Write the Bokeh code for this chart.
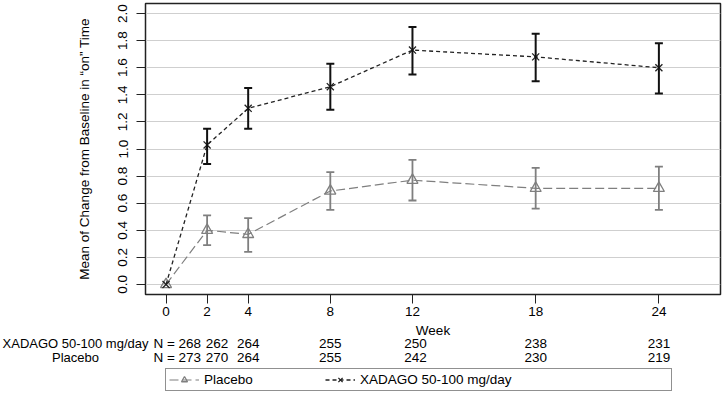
from bokeh.plotting import figure
from bokeh.layouts import column
from bokeh.models import (ColumnDataSource, Whisker, TeeHead, FixedTicker, Range1d,
                          Label, Legend, LegendItem, PrintfTickFormatter)
from bokeh.embed import file_html
from bokeh.resources import INLINE

# ---- data ----
weeks = [0, 2, 4, 8, 12, 18, 24]
placebo_mean = [0.0, 0.40, 0.37, 0.69, 0.77, 0.71, 0.71]
placebo_lower = [0.0, 0.29, 0.24, 0.55, 0.62, 0.56, 0.55]
placebo_upper = [0.0, 0.51, 0.49, 0.83, 0.92, 0.86, 0.87]
xadago_mean = [0.0, 1.03, 1.30, 1.46, 1.73, 1.68, 1.60]
xadago_lower = [0.0, 0.89, 1.15, 1.29, 1.55, 1.50, 1.41]
xadago_upper = [0.0, 1.15, 1.45, 1.63, 1.90, 1.85, 1.78]
xadago_n = [268, 262, 264, 255, 250, 238, 231]
placebo_n = [273, 270, 264, 255, 242, 230, 219]
x_ticks = [0, 2, 4, 8, 12, 18, 24]
y_ticks = [0.0, 0.2, 0.4, 0.6, 0.8, 1.0, 1.2, 1.4, 1.6, 1.8, 2.0]
xadago_name = "XADAGO 50-100 mg/day"
placebo_name = "Placebo"
x_label = "Week"
y_label = "Mean of Change from Baseline in \u201con\u201d Time"

FONT = "Liberation Sans"
FS = "13.5px"
PC = "#7f7f7f"
XC = "#222222"

# ---- layout constants ----
W = 724
X0, X1 = -1, 27
LB, RB = 145, 4
px_per_wk = (W - LB - RB) / (X1 - X0)
n_dx = [35, 10, 0, 0, 3, 0, 0]  # label offsets for the N rows (style)

p = figure(width=W, height=322, output_backend="svg", toolbar_location=None,
           x_range=Range1d(X0, X1), y_range=Range1d(-0.074, 2.074),
           min_border_left=LB, min_border_right=RB, min_border_top=3,
           min_border_bottom=28)
p.frame_align = False

p.outline_line_color = "#222222"
p.outline_line_width = 1.5
p.xgrid.visible = False
p.ygrid.grid_line_color = "#cfcfcf"
p.ygrid.grid_line_width = 1

src_p = ColumnDataSource(dict(week=weeks, mean=placebo_mean))
src_x = ColumnDataSource(dict(week=weeks, mean=xadago_mean))
src_pe = ColumnDataSource(dict(week=weeks[1:], lower=placebo_lower[1:], upper=placebo_upper[1:]))
src_xe = ColumnDataSource(dict(week=weeks[1:], lower=xadago_lower[1:], upper=xadago_upper[1:]))

# error bars
p.add_layout(Whisker(source=src_pe, base="week", upper="upper", lower="lower",
                     line_color=PC, line_width=1.8, level="glyph",
                     upper_head=TeeHead(size=8, line_color=PC, line_width=1.8),
                     lower_head=TeeHead(size=8, line_color=PC, line_width=1.8)))
p.add_layout(Whisker(source=src_xe, base="week", upper="upper", lower="lower",
                     line_color="#111111", line_width=2, level="glyph",
                     upper_head=TeeHead(size=8, line_color="#111111", line_width=2),
                     lower_head=TeeHead(size=8, line_color="#111111", line_width=2)))

def draw_series(fig, src_pl, src_xa):
    a = fig.line("week", "mean", source=src_pl, line_color=PC, line_width=1.2, line_dash="9 4")
    b = fig.scatter("week", "mean", source=src_pl, marker="triangle", size=11,
                    line_color=PC, line_width=1.3, fill_color=None)
    c = fig.line("week", "mean", source=src_xa, line_color=XC, line_width=1.3, line_dash="4 3")
    d = fig.scatter("week", "mean", source=src_xa, marker="x", size=10,
                    line_color=XC, line_width=1.3)
    return a, b, c, d

draw_series(p, src_p, src_x)

# axes
p.xaxis.ticker = FixedTicker(ticks=x_ticks)
p.yaxis.ticker = FixedTicker(ticks=y_ticks)
p.yaxis.formatter = PrintfTickFormatter(format="%.1f")
p.yaxis.axis_label = y_label
for ax in (p.xaxis, p.yaxis):
    ax.major_label_text_font = FONT
    ax.major_label_text_font_size = FS
    ax.major_label_text_color = "black"
    ax.axis_label_text_font = FONT
    ax.axis_label_text_font_size = FS
    ax.axis_label_text_font_style = "normal"
    ax.axis_label_text_color = "black"
    ax.major_tick_in = 0
    ax.major_tick_out = 9
    ax.minor_tick_line_color = None
    ax.axis_line_color = "#222222"
    ax.major_tick_line_color = "#222222"
p.xaxis.major_label_standoff = 3
p.yaxis.major_label_orientation = "vertical"
p.yaxis.major_label_standoff = 9
p.yaxis.axis_label_standoff = 24

# ---- lower panel: Week label, N rows, legend ----
H2 = 76
q = figure(width=W, height=H2, output_backend="svg", toolbar_location=None,
           x_range=Range1d(X0 - LB / px_per_wk, X1 + RB / px_per_wk),
           y_range=Range1d(-10, -9), x_axis_type=None, y_axis_type=None,
           min_border=0, min_border_left=0, min_border_right=0,
           min_border_top=0, min_border_bottom=0)
q.frame_align = False
q.outline_line_color = None
q.grid.visible = False

q.add_layout(Label(x=LB + (W - LB - RB) / 2, y=H2 - 8, x_units="screen", y_units="screen",
                   text=x_label, text_align="center", text_baseline="middle",
                   text_font=FONT, text_font_size=FS, text_color="black"))

def add_row(name, counts, y, name_x, name_align):
    q.add_layout(Label(x=name_x, y=y, x_units="screen", y_units="screen",
                       text=name, text_align=name_align, text_baseline="middle",
                       text_font=FONT, text_font_size="13px", text_color="black"))
    for i, (w, n) in enumerate(zip(weeks, counts)):
        txt = f"N = {n}" if i == 0 else str(n)
        q.add_layout(Label(x=w, y=y, x_units="data", y_units="screen",
                           x_offset=n_dx[i], text=txt,
                           text_align="right" if i == 0 else "center",
                           text_baseline="middle", text_font=FONT,
                           text_font_size=FS, text_color="black"))

add_row(xadago_name, xadago_n, H2 - 21, 148, "right")
add_row(placebo_name, placebo_n, H2 - 35, 75, "center")

# legend renderers (their data lies outside this panel's y range, only the legend shows them)
lg_pl, lg_pp, lg_xl, lg_xp = draw_series(q, src_p, src_x)

legend = Legend(items=[LegendItem(label=placebo_name, renderers=[lg_pl, lg_pp]),
                       LegendItem(label=xadago_name, renderers=[lg_xl, lg_xp]),
                       LegendItem(label="", renderers=[])],
                location=(165, 7), orientation="horizontal",
                label_text_font=FONT, label_text_font_size=FS, label_text_color="black",
                glyph_width=30, glyph_height=15, label_height=15, label_width=117,
                label_standoff=5, spacing=4, padding=3, margin=0,
                border_line_color="#222222", border_line_width=1.2,
                background_fill_color="white", background_fill_alpha=1)
q.add_layout(legend, "center")

layout = column(p, q, spacing=0)
open("out.html", "w").write(file_html(layout, INLINE))
